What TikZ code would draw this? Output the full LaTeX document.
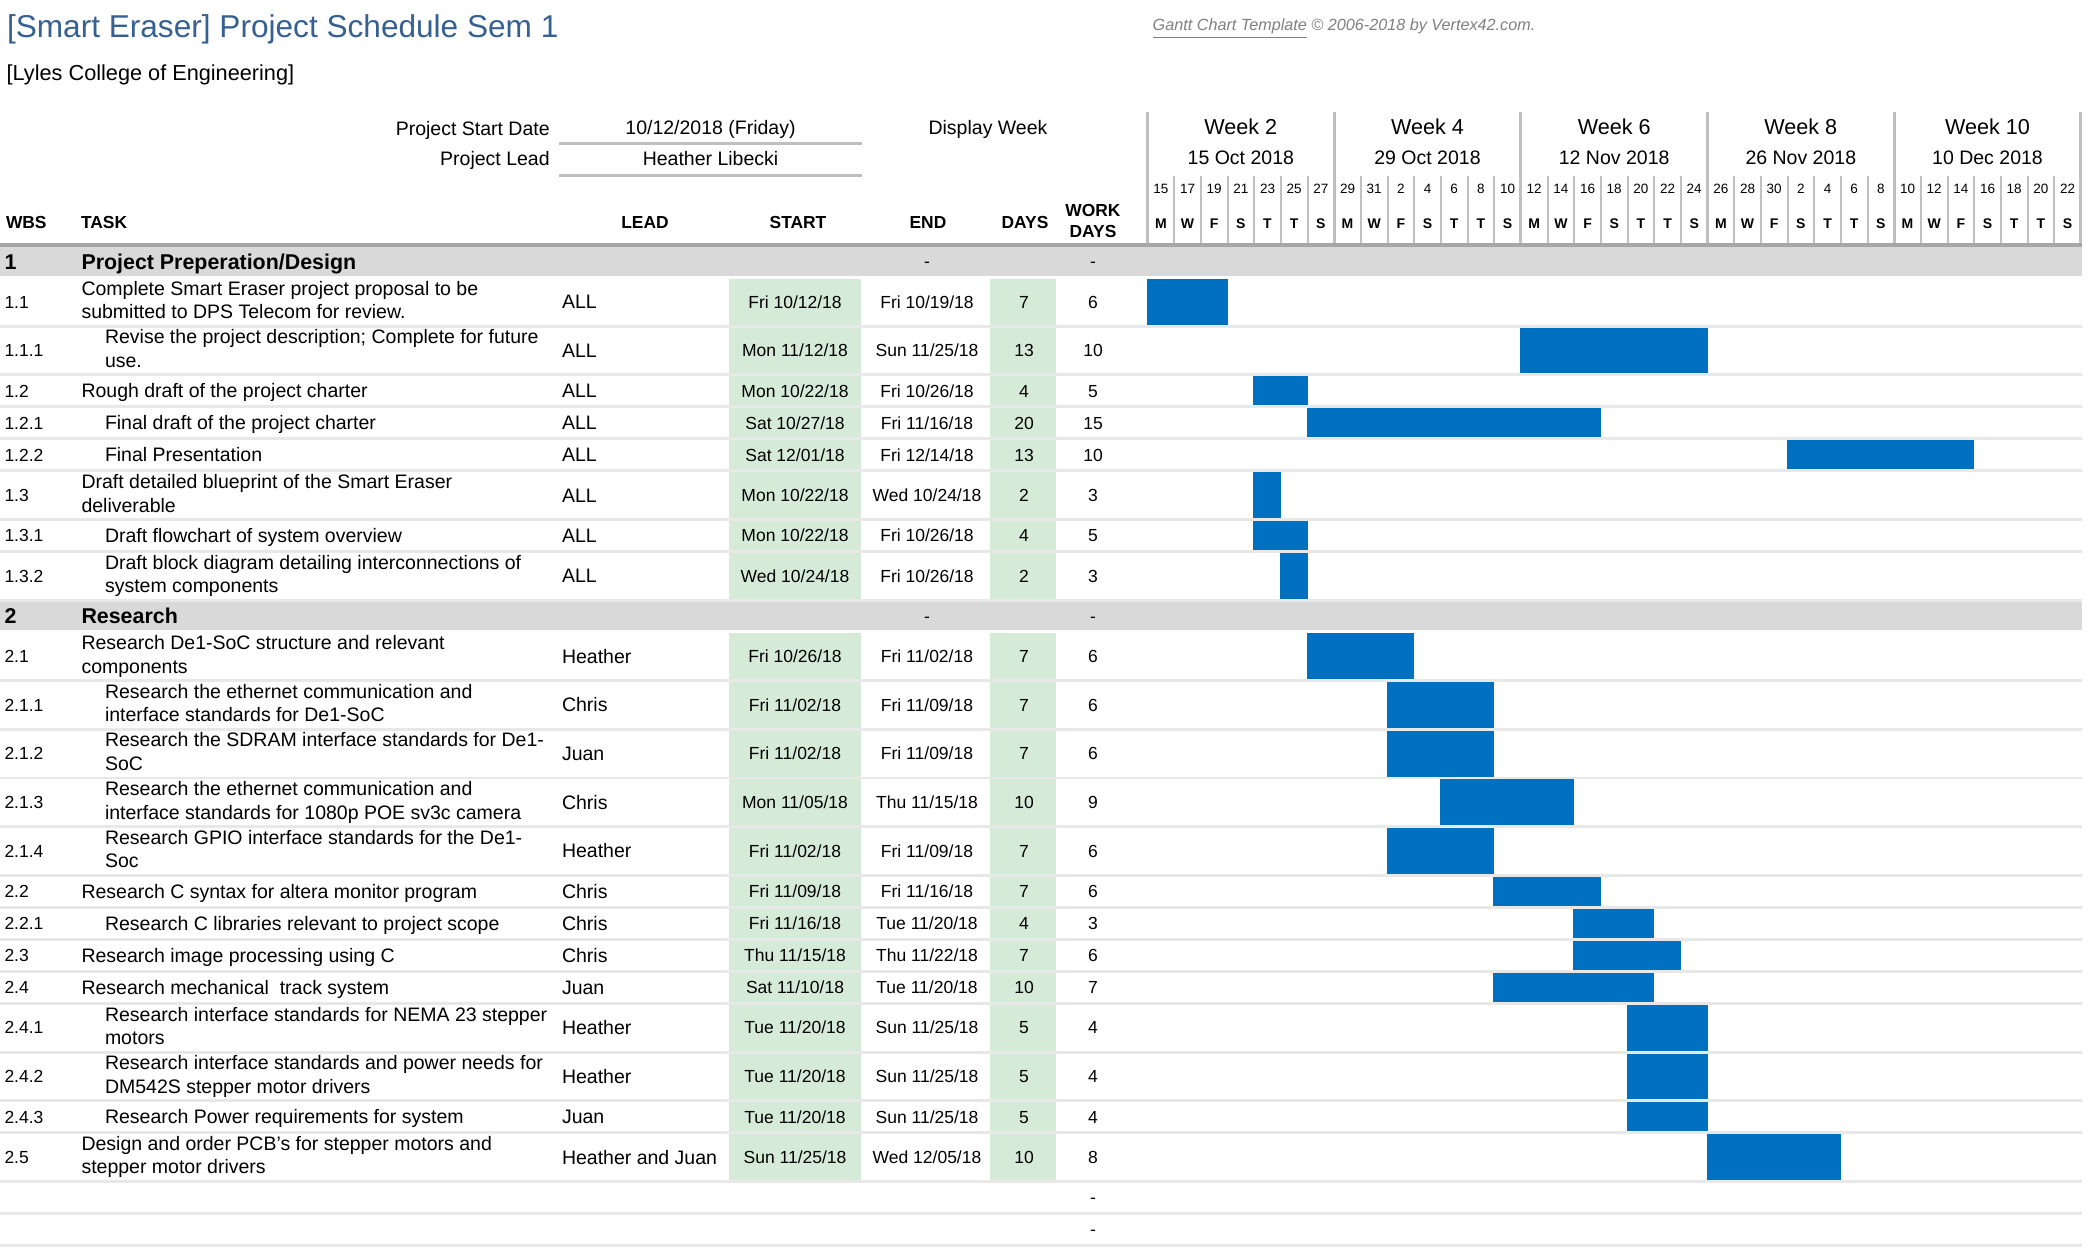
\documentclass[tikz,border=0pt]{standalone}
\usepackage{fontspec}
\setmainfont{Liberation Sans}
\definecolor{titleblue}{RGB}{55,96,146}
\definecolor{hdrl}{RGB}{166,166,166}
\definecolor{phaseg}{RGB}{217,217,217}
\definecolor{sepc}{RGB}{232,232,232}
\definecolor{cellg}{RGB}{213,235,215}
\definecolor{gridl}{RGB}{191,191,191}
\definecolor{barc}{RGB}{0,112,192}
\definecolor{copyc}{RGB}{128,128,128}
\newcommand\cs{\vrule height .916em depth .2em width 0pt\relax}
\tikzset{
  txt/.style={inner sep=0pt, outer sep=0pt, execute at begin node=\cs},
  ttl/.style={txt, anchor=west, text=titleblue, font=\fontsize{15.8pt}{18pt}\selectfont},
  subt/.style={txt, anchor=west, font=\fontsize{10.85pt}{13pt}\selectfont},
  cpy/.style={txt, anchor=west, text=copyc, font=\fontsize{8.1pt}{9pt}\selectfont\itshape},
  lbl/.style={txt, font=\fontsize{9.75pt}{11.75pt}\selectfont},
  hdr/.style={txt, font=\fontsize{8.7pt}{10.8pt}\selectfont\bfseries},
  wk/.style={txt, font=\fontsize{10.8pt}{13pt}\selectfont},
  wkd/.style={txt, font=\fontsize{9.75pt}{12pt}\selectfont},
  dnum/.style={txt, font=\fontsize{6.75pt}{8pt}\selectfont},
  dlet/.style={txt, font=\fontsize{7pt}{8pt}\selectfont\bfseries},
  wbs/.style={txt, anchor=west, font=\fontsize{8.75pt}{10pt}\selectfont},
  task/.style={txt, anchor=west, align=left, font=\fontsize{9.75pt}{11.75pt}\selectfont},
  lead/.style={txt, anchor=west, font=\fontsize{9.75pt}{11.75pt}\selectfont},
  cell/.style={txt, font=\fontsize{8.75pt}{10pt}\selectfont},
  phw/.style={txt, anchor=west, font=\fontsize{10.7pt}{13pt}\selectfont\bfseries},
  majl/.style={draw=gridl, line width=1.5pt},
  minl/.style={draw=gridl, line width=1pt},
}
% grid: day d starts at x = 1146.5 + 13.333 d
% task row: id, top, height, wbs, text x, task, lead
\newcommand\trow[7]{%
  \pgfmathsetmacro\rt{#2}%
  \pgfmathsetmacro\rb{#2+#3-2.9}%
  \pgfmathsetmacro\rz{#2+#3}%
  \pgfmathsetmacro\cy{#2+(#3-2.9)/2}%
  \fill[sepc] (0,\rb) rectangle (2082,\rz);
  \fill[cellg] (729,\rt) rectangle (861,\rb);
  \fill[cellg] (990,\rt) rectangle (1056,\rb);
  \node[wbs] (w#1) at (4.5,\cy) {#4};
  \node[task] (t#1) at (#5,\cy) {#6};
  \node[lead] (l#1) at (562,\cy) {#7};
}
% cells: id, start, end, days, workdays
\newcommand\tdat[5]{%
  \node[cell] (s#1) at (795,\cy) {#2};
  \node[cell] (e#1) at (927,\cy) {#3};
  \node[cell] (d#1) at (1024,\cy) {#4};
  \node[cell] (k#1) at (1093,\cy) {#5};
}
% gantt bar: first day, end day
\newcommand\tbar[2]{%
  \fill[barc] ({1146.5+13.333*#1},\rt) rectangle ({1147.5+13.333*#2},\rb);
}
% phase row: id, top, number, text
\newcommand\prow[4]{%
  \pgfmathsetmacro\cy{#2+14.2}%
  \pgfmathsetmacro\rz{#2+28.4}%
  \fill[phaseg] (0,#2) rectangle (2082,\rz);
  \node[phw] (w#1) at (4.5,\cy) {#3};
  \node[phw] (t#1) at (81.5,\cy) {#4};
  \node[cell] (e#1) at (927,\cy) {-};
  \node[cell] (k#1) at (1093,\cy) {-};
}
% empty row: id, top
\newcommand\erow[2]{%
  \pgfmathsetmacro\rb{#2+29.1}%
  \pgfmathsetmacro\rz{#2+32}%
  \pgfmathsetmacro\cy{#2+14.55}%
  \fill[sepc] (0,\rb) rectangle (2082,\rz);
  \node[cell] (k#1) at (1093,\cy) {-};
}
\begin{document}
\begin{tikzpicture}[x=0.5pt,y=-0.5pt]
\useasboundingbox (0,0) rectangle (2088,1253);
% titles
\node[ttl] (title) at (7,26) {[Smart Eraser] Project Schedule Sem 1};
\node[subt] (college) at (6.7,72.7) {[Lyles College of Engineering]};
\node[cpy] (copy) at (1152.7,27) {\underline{Gantt Chart Template} © 2006-2018 by Vertex42.com.};
% project info
\node[lbl, anchor=east] (psdl) at (549.7,128.3) {Project Start Date};
\node[lbl] (psdv) at (710.5,127.7) {10/12/2018 (Friday)};
\node[lbl, anchor=east] (pll) at (549.7,158.3) {Project Lead};
\node[lbl] (plv) at (710.5,158.7) {Heather Libecki};
\node[lbl] (dw) at (988,128) {Display Week};
\fill[gridl] (559,142.2) rectangle (862,144.9);
\fill[gridl] (559,174) rectangle (862,176.7);
% column headers
\node[hdr, anchor=west] (hwbs) at (6,222.7) {WBS};
\node[hdr, anchor=west] (htask) at (81,222.7) {TASK};
\node[hdr] (hlead) at (645,222.7) {LEAD};
\node[hdr] (hstart) at (798,222.7) {START};
\node[hdr] (hend) at (928,222.7) {END};
\node[hdr] (hdays) at (1025,222.7) {DAYS};
\node[hdr, align=center] (hwork) at (1093,222.5) {WORK\\\cs DAYS};
% gantt header grid
\foreach \j in {1,...,34}{
  \pgfmathtruncatemacro\mm{mod(\j,7)}
  \ifnum\mm>0
    \draw[minl] ({1147.5+26.667*\j},176) -- ({1147.5+26.667*\j},243);
  \fi
}
\foreach \k in {0,...,5}{
  \draw[majl] ({1147.5+186.667*\k},112.3) -- ({1147.5+186.667*\k},243);
}
\foreach \k/\d in {0/15 Oct 2018,1/29 Oct 2018,2/12 Nov 2018,3/26 Nov 2018,4/10 Dec 2018}{
  \pgfmathtruncatemacro\wn{2*\k+2}
  \node[wk] (wk\k) at ({1147.5+186.667*(\k+0.5)},126.7) {Week \wn};
  \node[wkd] (wd\k) at ({1147.5+186.667*(\k+0.5)},157.3) {\d};
}
\foreach \n [count=\j from 0] in {15,17,19,21,23,25,27,29,31,2,4,6,8,10,12,14,16,18,20,22,24,26,28,30,2,4,6,8,10,12,14,16,18,20,22}{
  \node[dnum] (dn\j) at ({1147.5+26.667*(\j+0.5)},188.5) {\n};
}
\foreach \l [count=\j from 0] in {M,W,F,S,T,T,S,M,W,F,S,T,T,S,M,W,F,S,T,T,S,M,W,F,S,T,T,S,M,W,F,S,T,T,S}{
  \node[dlet] (dl\j) at ({1147.5+26.667*(\j+0.5)},223.3) {\l};
}
\fill[hdrl] (0,242.7) rectangle (2082,247.3);
% ---- phase 1
\prow{p1}{247.3}{1}{Project Preperation/Design}
\trow{r1}{278.9}{48.7}{1.1}{81.5}{Complete Smart Eraser project proposal to be\\\cs submitted to DPS Telecom for review.}{ALL}
\tdat{r1}{Fri 10/12/18}{Fri 10/19/18}{7}{6}\tbar{0}{6}
\trow{r2}{327.6}{48.7}{1.1.1}{105}{Revise the project description; Complete for future\\\cs use.}{ALL}
\tdat{r2}{Mon 11/12/18}{Sun 11/25/18}{13}{10}\tbar{28}{42}
\trow{r3}{376.3}{32}{1.2}{81.5}{Rough draft of the project charter}{ALL}
\tdat{r3}{Mon 10/22/18}{Fri 10/26/18}{4}{5}\tbar{8}{12}
\trow{r4}{408.3}{32}{1.2.1}{105}{Final draft of the project charter}{ALL}
\tdat{r4}{Sat 10/27/18}{Fri 11/16/18}{20}{15}\tbar{12}{34}
\trow{r5}{440.3}{32}{1.2.2}{105}{Final Presentation}{ALL}
\tdat{r5}{Sat 12/01/18}{Fri 12/14/18}{13}{10}\tbar{48}{62}
\trow{r6}{472.3}{48.7}{1.3}{81.5}{Draft detailed blueprint of the Smart Eraser\\\cs deliverable}{ALL}
\tdat{r6}{Mon 10/22/18}{Wed 10/24/18}{2}{3}\tbar{8}{10}
\trow{r7}{521.0}{32}{1.3.1}{105}{Draft flowchart of system overview}{ALL}
\tdat{r7}{Mon 10/22/18}{Fri 10/26/18}{4}{5}\tbar{8}{12}
\trow{r8}{553.0}{48.7}{1.3.2}{105}{Draft block diagram detailing interconnections of\\\cs system components}{ALL}
\tdat{r8}{Wed 10/24/18}{Fri 10/26/18}{2}{3}\tbar{10}{12}
% ---- phase 2
\prow{p2}{601.7}{2}{Research}
\trow{r9}{633.3}{48.7}{2.1}{81.5}{Research De1-SoC structure and relevant\\\cs components}{Heather}
\tdat{r9}{Fri 10/26/18}{Fri 11/02/18}{7}{6}\tbar{12}{20}
\trow{r10}{682.0}{48.7}{2.1.1}{105}{Research the ethernet communication and\\\cs interface standards for De1-SoC}{Chris}
\tdat{r10}{Fri 11/02/18}{Fri 11/09/18}{7}{6}\tbar{18}{26}
\trow{r11}{730.7}{48.7}{2.1.2}{105}{Research the SDRAM interface standards for De1-\\\cs SoC}{Juan}
\tdat{r11}{Fri 11/02/18}{Fri 11/09/18}{7}{6}\tbar{18}{26}
\trow{r12}{779.4}{48.7}{2.1.3}{105}{Research the ethernet communication and\\\cs interface standards for 1080p POE sv3c camera}{Chris}
\tdat{r12}{Mon 11/05/18}{Thu 11/15/18}{10}{9}\tbar{22}{32}
\trow{r13}{828.1}{48.7}{2.1.4}{105}{Research GPIO interface standards for the De1-\\\cs Soc}{Heather}
\tdat{r13}{Fri 11/02/18}{Fri 11/09/18}{7}{6}\tbar{18}{26}
\trow{r14}{876.8}{32}{2.2}{81.5}{Research C syntax for altera monitor program}{Chris}
\tdat{r14}{Fri 11/09/18}{Fri 11/16/18}{7}{6}\tbar{26}{34}
\trow{r15}{908.8}{32}{2.2.1}{105}{Research C libraries relevant to project scope}{Chris}
\tdat{r15}{Fri 11/16/18}{Tue 11/20/18}{4}{3}\tbar{32}{38}
\trow{r16}{940.8}{32}{2.3}{81.5}{Research image processing using C}{Chris}
\tdat{r16}{Thu 11/15/18}{Thu 11/22/18}{7}{6}\tbar{32}{40}
\trow{r17}{972.8}{32}{2.4}{81.5}{Research mechanical\ \ track system}{Juan}
\tdat{r17}{Sat 11/10/18}{Tue 11/20/18}{10}{7}\tbar{26}{38}
\trow{r18}{1004.8}{48.7}{2.4.1}{105}{Research interface standards for NEMA 23 stepper\\\cs motors}{Heather}
\tdat{r18}{Tue 11/20/18}{Sun 11/25/18}{5}{4}\tbar{36}{42}
\trow{r19}{1053.5}{48.7}{2.4.2}{105}{Research interface standards and power needs for\\\cs DM542S stepper motor drivers}{Heather}
\tdat{r19}{Tue 11/20/18}{Sun 11/25/18}{5}{4}\tbar{36}{42}
\trow{r20}{1102.2}{32}{2.4.3}{105}{Research Power requirements for system}{Juan}
\tdat{r20}{Tue 11/20/18}{Sun 11/25/18}{5}{4}\tbar{36}{42}
\trow{r21}{1134.2}{48.7}{2.5}{81.5}{Design and order PCB's for stepper motors and\\\cs stepper motor drivers}{Heather and Juan}
\tdat{r21}{Sun 11/25/18}{Wed 12/05/18}{10}{8}\tbar{42}{52}
\erow{x1}{1182.9}
\erow{x2}{1214.9}
\end{tikzpicture}
\end{document}
